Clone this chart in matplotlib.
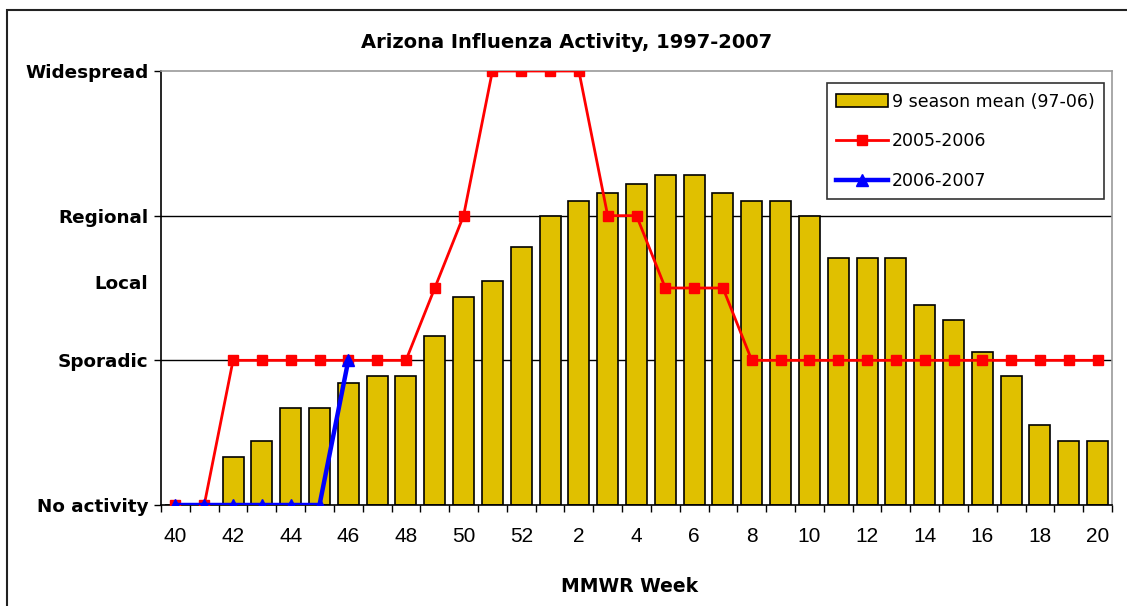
import matplotlib

matplotlib.use("Agg")
import matplotlib.pyplot as plt
from matplotlib.patches import Rectangle
import numpy as np

# MMWR weeks, season runs from week 40 to week 20 of the next year
weeks = list(range(40, 53)) + list(range(1, 21))

# activity level: 0 none, 1 sporadic, 1.5 local, 2 regional, 3 widespread
mean_9_season = [
    0.0, 0.0, 0.33, 0.44, 0.67, 0.67, 0.84, 0.89, 0.89, 1.17, 1.44,
    1.55, 1.78, 2.0, 2.10, 2.16, 2.22, 2.28, 2.28, 2.16, 2.10, 2.10,
    2.0, 1.71, 1.71, 1.71, 1.38, 1.28, 1.06, 0.89, 0.55, 0.44, 0.44,
]
season_2005 = [
    0, 0, 1, 1, 1, 1, 1, 1, 1, 1.5, 2,
    3, 3, 3, 3, 2, 2, 1.5, 1.5, 1.5, 1, 1,
    1, 1, 1, 1, 1, 1, 1, 1, 1, 1, 1,
]
season_2006 = [0, 0, 0, 0, 0, 0, 1]

level_values = [0, 1, 2, 3]
level_labels = ["No activity", "Sporadic", "Regional", "Widespread"]
local_value = 1.54
local_label = "Local"

BAR_COLOR = "#E0C000"
W, H = 1127, 606

fig = plt.figure(figsize=(W / 100, H / 100), dpi=100)
ax = fig.add_axes([161 / W, 1 - 505 / H, (1112 - 161) / W, (505 - 71) / H])

x = np.arange(len(weeks))
bars = ax.bar(x, mean_9_season, width=0.73, color=BAR_COLOR,
              edgecolor="black", linewidth=1.2, zorder=2,
              label="9 season mean (97-06)")
(red_line,) = ax.plot(x, season_2005, color="#FF0000", linewidth=2.0,
                      marker="s", markersize=7, zorder=3, label="2005-2006")
(blue_line,) = ax.plot(x[:len(season_2006)], season_2006, color="#0000FF",
                       linewidth=3.2, marker="^", markersize=8, zorder=4,
                       label="2006-2007")

for level in level_values[1:3]:
    ax.axhline(level, color="black", linewidth=1.0, zorder=1)

ax.set_xlim(-0.5, len(weeks) - 0.5)
ax.set_ylim(0, 3)

# category boundaries carry the tick marks, every second week gets a label
ax.set_xticks(np.arange(-0.5, len(weeks), 1.0))
ax.set_xticklabels([])
ax.set_xticks(x[::2], minor=True)
ax.set_xticklabels([str(w) for w in weeks[::2]], minor=True,
                   fontfamily="Liberation Sans", fontsize=15)
ax.tick_params(axis="x", which="major", direction="out", length=5,
               width=1.0, color="black")
ax.tick_params(axis="x", which="minor", length=0, pad=16)

ax.set_yticks(level_values)
ax.set_yticklabels(level_labels, fontweight="bold", fontsize=13.2)
ax.set_yticks([local_value], minor=True)
ax.set_yticklabels([local_label], minor=True, fontweight="bold",
                   fontsize=13.2)
ax.tick_params(axis="y", which="major", direction="out", length=5,
               width=1.0, pad=4)
ax.tick_params(axis="y", which="minor", length=0, pad=9)

for side in ("left", "bottom"):
    ax.spines[side].set_color("black")
    ax.spines[side].set_linewidth(1.2)
for side in ("top", "right"):
    ax.spines[side].set_color("#9A9A9A")
    ax.spines[side].set_linewidth(1.2)

leg = ax.legend(handles=[bars, red_line, blue_line], loc="upper right",
                bbox_to_anchor=(0.9916, 0.9724), borderaxespad=0,
                fontsize=12.5, frameon=True, fancybox=False,
                edgecolor="black", handlelength=3.0, handletextpad=0.2,
                labelspacing=1.25, borderpad=0.55)
leg.get_frame().set_linewidth(1.2)

fig.text(567 / W, 1 - 43 / H, "Arizona Influenza Activity, 1997-2007",
         ha="center", va="center", fontweight="bold", fontsize=14)
fig.text(630 / W, 1 - 587 / H, "MMWR Week", ha="center", va="center",
         fontweight="bold", fontsize=13.5)

fig.add_artist(Rectangle((7 / W, -0.1), 1.2, 1.1 - 10 / H, fill=False,
                         edgecolor="#222222", linewidth=1.5,
                         transform=fig.transFigure, clip_on=False))

fig.savefig("out.png", dpi=100)
